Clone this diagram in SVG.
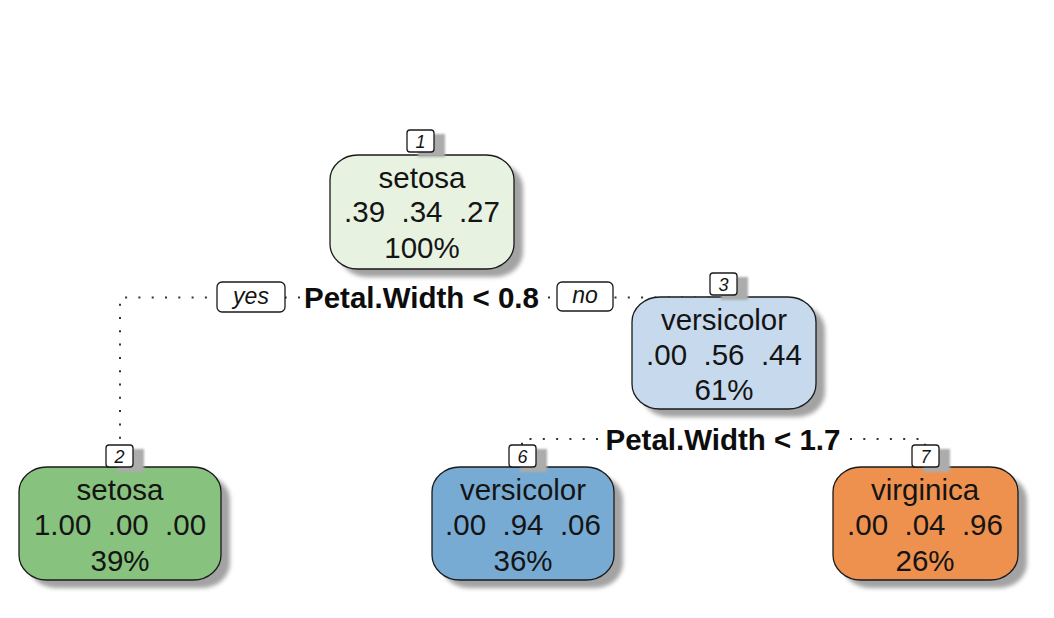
<svg xmlns="http://www.w3.org/2000/svg" width="1054" height="618" viewBox="0 0 1054 618">
  <style>
    .node { stroke: #1a1a1a; stroke-width: 1.3; }
    .shadow { fill: #a3a3a3; filter: url(#blur); }
    .lshadow { fill: #acacac; filter: url(#blur2); }
    .lbl { fill: #ffffff; stroke: #1a1a1a; stroke-width: 1.3; }
    .t { font-family: "Liberation Sans", Arial, sans-serif; font-size: 29.5px; fill: #141414; text-anchor: middle; white-space: pre; }
    .num { font-family: "Liberation Sans", Arial, sans-serif; font-size: 18px; font-style: italic; fill: #141414; text-anchor: middle; }
    .yn { font-family: "Liberation Sans", Arial, sans-serif; font-size: 23px; font-style: italic; fill: #141414; text-anchor: middle; }
    .split { font-family: "Liberation Sans", Arial, sans-serif; font-size: 29.5px; font-weight: bold; fill: #0d0d0d; text-anchor: middle; }
    .dot { fill: none; stroke: #333333; stroke-width: 2; stroke-dasharray: 2 11.3; }
  </style>
  <defs>
    <filter id="blur" x="-20%" y="-20%" width="140%" height="140%">
      <feGaussianBlur stdDeviation="2.2"/>
    </filter>
    <filter id="blur2" x="-30%" y="-30%" width="160%" height="160%">
      <feGaussianBlur stdDeviation="1.3"/>
    </filter>
  </defs>
  <rect width="1054" height="618" fill="#ffffff"/>

  <g id="connectors">
    <path class="dot" d="M300 297.5 H120 V445"/>
    <path class="dot" d="M548 297.5 H724 V300"/>
    <path class="dot" d="M598 439 H522 V445"/>
    <path class="dot" d="M850 439 H925 V445"/>
  </g>

  <g id="split1">
    <rect class="lbl" x="217" y="282" width="68" height="30" rx="5"/>
    <text class="yn" x="251" y="304">yes</text>
    <text class="split" x="421.5" y="308">Petal.Width &lt; 0.8</text>
    <rect class="lbl" x="557" y="282" width="56" height="29" rx="5"/>
    <text class="yn" x="585" y="303">no</text>
  </g>

  <g id="split3">
    <text class="split" x="723" y="450">Petal.Width &lt; 1.7</text>
  </g>

  <g id="node1">
    <rect class="shadow" x="339" y="163" width="184" height="114" rx="28" ry="25"/>
    <rect class="node" x="330" y="155" width="184" height="114" rx="28" ry="25" fill="#e7f2e1"/>
    <rect class="lshadow" x="418" y="134" width="27" height="23"/>
    <rect class="lbl" x="407" y="130" width="27" height="22" rx="3"/>
    <text class="num" x="420.5" y="147.5">1</text>
    <text class="t" x="422" y="188">setosa</text>
    <text class="t" x="422" y="222">.39  .34  .27</text>
    <text class="t" x="422" y="258">100%</text>
  </g>

  <g id="node3">
    <rect class="shadow" x="641" y="305" width="184" height="112" rx="28" ry="25"/>
    <rect class="node" x="632" y="297" width="184" height="112" rx="28" ry="25" fill="#c7d9ec"/>
    <rect class="lshadow" x="721" y="277" width="27" height="23"/>
    <rect class="lbl" x="710" y="273" width="27" height="22" rx="3"/>
    <text class="num" x="723.5" y="290.5">3</text>
    <text class="t" x="724" y="330">versicolor</text>
    <text class="t" x="724" y="365">.00  .56  .44</text>
    <text class="t" x="724" y="400">61%</text>
  </g>

  <g id="node2">
    <rect class="shadow" x="28" y="475" width="202" height="113" rx="28" ry="25"/>
    <rect class="node" x="19" y="467" width="202" height="113" rx="28" ry="25" fill="#87c27e"/>
    <rect class="lshadow" x="117" y="449" width="27" height="23"/>
    <rect class="lbl" x="106" y="445" width="27" height="22" rx="3"/>
    <text class="num" x="119.5" y="462.5">2</text>
    <text class="t" x="120" y="500">setosa</text>
    <text class="t" x="120" y="535">1.00  .00  .00</text>
    <text class="t" x="120" y="571">39%</text>
  </g>

  <g id="node6">
    <rect class="shadow" x="441" y="475" width="182" height="113" rx="28" ry="25"/>
    <rect class="node" x="432" y="467" width="182" height="113" rx="28" ry="25" fill="#78abd3"/>
    <rect class="lshadow" x="520" y="449" width="27" height="23"/>
    <rect class="lbl" x="509" y="445" width="27" height="22" rx="3"/>
    <text class="num" x="522.5" y="462.5">6</text>
    <text class="t" x="523" y="500">versicolor</text>
    <text class="t" x="523" y="535">.00  .94  .06</text>
    <text class="t" x="523" y="571">36%</text>
  </g>

  <g id="node7">
    <rect class="shadow" x="842" y="475" width="185" height="113" rx="28" ry="25"/>
    <rect class="node" x="833" y="467" width="185" height="113" rx="28" ry="25" fill="#ee914f"/>
    <rect class="lshadow" x="923" y="449" width="27" height="23"/>
    <rect class="lbl" x="912" y="445" width="27" height="22" rx="3"/>
    <text class="num" x="925.5" y="462.5">7</text>
    <text class="t" x="925" y="500">virginica</text>
    <text class="t" x="925" y="535">.00  .04  .96</text>
    <text class="t" x="925" y="571">26%</text>
  </g>
</svg>
